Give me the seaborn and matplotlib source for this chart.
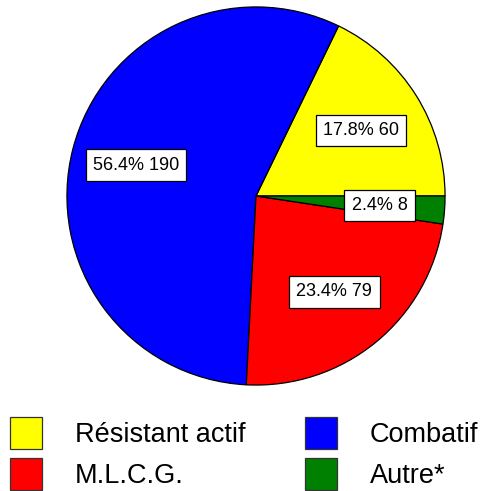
import matplotlib
matplotlib.use("Agg")
import matplotlib.pyplot as plt
from matplotlib.patches import Patch
import seaborn as sns

# ── Données ───────────────────────────────────────────────────────────────────
categories = ["Résistant actif", "Combatif", "M.L.C.G.", "Autre*"]
valeurs    = [60, 190, 79, 8]
couleurs   = ["#ffff00", "#0000ff", "#ff0000", "#008000"]

sns.set_theme(style="white")
plt.rcParams["font.family"] = ["Liberation Sans", "DejaVu Sans"]
plt.rcParams["text.color"] = "black"

W, H = 483, 491
fig = plt.figure(figsize=(W / 100, H / 100), dpi=100)
fig.patch.set_facecolor("white")

# Camembert — centre (256, 196), rayon 190 px
ax = fig.add_axes([66 / W, (H - 386) / H, 380 / W, 380 / H])
total = sum(valeurs)
wedges, _, autotexts = ax.pie(
    valeurs, colors=couleurs, startangle=0, counterclock=True,
    autopct=lambda p: f"{p:.1f}% {round(p * total / 100)}",
    pctdistance=0.655,
    wedgeprops=dict(edgecolor="black", linewidth=0.9),
    textprops=dict(fontsize=13, color="black"),
)
for t in autotexts:
    t.set_bbox(dict(boxstyle="square,pad=0.4", facecolor="white",
                    edgecolor="black", linewidth=0.9))
ax.set_xlim(-1.005, 1.005)
ax.set_ylim(-1.005, 1.005)
ax.set_aspect("equal")
ax.axis("off")

# Légende — ordre colonne par colonne
ordre = [0, 2, 1, 3]
handles = [Patch(facecolor=couleurs[i], edgecolor="#333333", linewidth=0.9) for i in ordre]
labels  = [categories[i] for i in ordre]
leg = fig.legend(handles, labels, ncol=2, loc="lower left",
                 bbox_to_anchor=(-12 / W, -21 / H), frameon=False,
                 fontsize=19.5, handlelength=1.2, handleheight=1.45,
                 handletextpad=1.2, columnspacing=2.2, labelspacing=0.35,
                 borderpad=0.3)
for txt in leg.get_texts():
    txt.set_color("black")

fig.savefig("out.png", dpi=100, facecolor="white")
